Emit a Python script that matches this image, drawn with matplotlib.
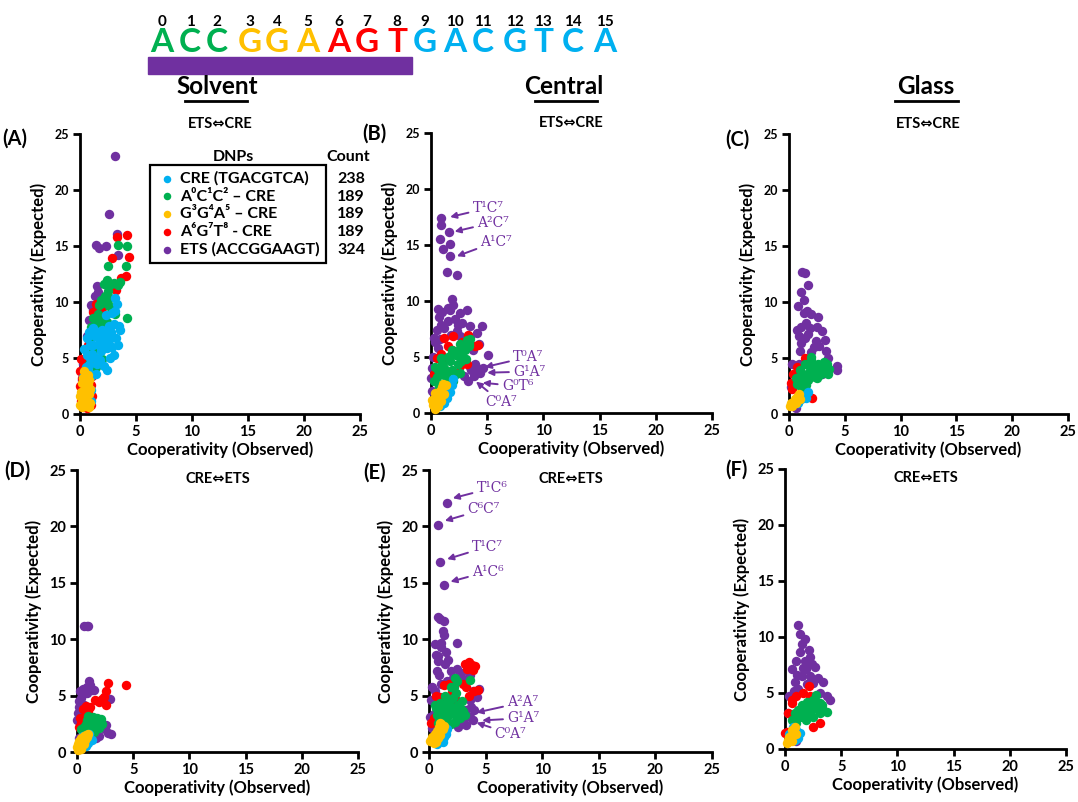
import matplotlib
matplotlib.use('Agg')
import matplotlib.pyplot as plt

plt.rcParams['font.family'] = ['Lato', 'DejaVu Sans']
plt.rcParams['font.weight'] = 'bold'

# ---- data: (observed, expected) pairs per panel/series ----
series_labels = ['CRE (TGACGTCA)', 'A⁰C¹C² – CRE', 'G³G⁴A⁵ – CRE', 'A⁶G⁷T⁸ - CRE', 'ETS (ACCGGAAGT)']
series_counts = [238, 189, 189, 189, 324]
series_colors = ['#00B0F0', '#00B050', '#FFC000', '#FF0000', '#7030A0']

# panel A  (solvent, ETS<=>CRE)
a_cre = [(3.1, 10.4), (3.1, 9.2), (2.9, 9.0), (3.0, 8.0), (3.4, 6.2), (3.0, 5.3), (2.7, 5.0), (2.4, 3.9),
         (1.5, 6.9), (0.9, 6.2), (0.6, 5.3), (0.8, 4.4), (1.9, 5.6), (2.2, 6.5), (1.2, 7.7), (0.3, 3.3),
         (1.0, 2.1), (2.4, 5.9), (3.5, 7.9), (2.8, 7.3), (2.6, 7.9), (2.0, 7.5), (1.7, 6.2), (1.3, 7.0),
         (1.1, 5.4), (1.4, 5.0), (0.7, 3.8), (1.0, 3.4), (0.5, 4.2), (1.5, 4.5), (2.2, 7.1), (3.6, 7.5),
         (2.6, 6.6), (1.9, 6.8), (0.8, 7.3), (1.2, 6.2), (0.5, 2.6), (1.0, 1.2), (1.6, 7.3), (2.5, 7.6),
         (3.2, 6.8), (2.9, 6.0), (1.8, 4.8), (2.1, 4.3), (0.4, 5.8), (0.6, 6.8), (1.4, 3.6), (2.3, 8.8),
         (3.3, 9.8), (0.9, 5.0)]
a_acc = [(3.4, 15.1), (4.2, 15.0), (4.1, 13.2), (2.5, 13.2), (2.8, 11.6), (3.4, 11.5), (3.0, 11.7),
         (2.2, 10.5), (2.5, 11.0), (1.9, 10.2), (2.3, 10.0), (2.7, 10.4), (2.0, 9.9), (1.7, 9.7),
         (4.2, 8.6), (3.1, 8.9), (1.2, 8.6), (1.4, 8.2), (0.9, 6.8), (1.9, 7.7), (2.0, 4.9), (1.4, 4.2),
         (1.6, 7.2), (1.0, 7.8), (2.4, 8.2), (1.2, 5.6), (0.8, 4.5), (0.6, 3.8), (2.9, 9.2), (2.1, 11.6),
         (3.6, 11.8), (2.4, 12.0), (1.6, 8.9), (1.9, 8.3), (2.6, 9.6)]
a_gga = [(0.2, 0.6), (0.4, 1.0), (0.3, 1.5), (0.6, 2.0), (0.5, 2.5), (0.8, 3.0), (0.7, 3.5), (0.4, 3.8),
         (0.9, 2.2), (0.2, 2.8), (0.6, 1.2), (0.8, 1.8), (0.1, 2.0), (0.3, 3.2), (0.5, 0.7), (0.9, 1.0),
         (0.7, 2.7), (0.2, 1.2), (0.0, 1.6), (0.0, 0.8), (0.5, 3.3), (0.8, 0.6)]
a_agt = [(4.2, 16.0), (3.3, 15.8), (4.4, 14.0), (2.9, 13.9), (4.1, 12.3), (3.7, 12.1), (3.2, 11.1),
         (2.6, 11.6), (1.4, 9.8), (1.2, 9.1), (1.8, 8.6), (0.5, 5.0), (0.1, 4.9), (0.0, 3.8), (0.2, 3.2),
         (0.0, 2.5), (0.3, 2.0), (0.1, 1.2), (0.3, 0.6), (0.6, 0.5), (1.0, 0.8), (1.1, 1.6), (1.0, 2.6),
         (1.1, 3.4), (0.9, 7.1), (0.7, 6.2), (2.0, 9.5), (0.4, 4.3), (0.8, 1.9), (0.5, 1.4)]
a_ets = [(3.1, 23.0), (2.6, 17.9), (1.4, 15.1), (1.7, 14.8), (2.3, 15.0), (3.3, 16.1), (3.4, 14.2),
         (1.5, 11.4), (1.6, 10.9), (1.3, 10.5), (1.0, 9.7), (1.2, 9.3), (0.8, 8.4), (0.6, 7.0), (0.3, 4.5),
         (0.4, 1.0), (0.7, 0.8), (0.9, 1.3), (0.2, 3.0), (1.9, 10.2)]

# panel B  (central, ETS<=>CRE)
b_cre = [(1.0, 1.4), (1.5, 2.3), (1.2, 0.9), (1.7, 1.9), (1.9, 2.5), (0.8, 0.6), (1.4, 1.3), (2.0, 3.0), (0.6, 1.1)]
b_acc = [(3.2, 6.5), (3.4, 6.2), (2.6, 6.2), (1.9, 5.6), (1.5, 5.0), (1.0, 4.4), (0.6, 3.8), (0.5, 3.2),
         (0.7, 2.4), (1.3, 3.2), (1.9, 3.8), (2.4, 4.4), (2.8, 5.0), (3.4, 6.0), (3.0, 5.6), (2.0, 2.9),
         (1.6, 2.4), (0.3, 2.9), (2.2, 5.2), (1.7, 4.6), (1.2, 4.0), (0.8, 3.5), (2.5, 5.6), (2.9, 6.0),
         (1.4, 2.8), (2.2, 3.5), (2.7, 4.6), (1.1, 2.6), (0.4, 4.1), (3.5, 6.6), (1.8, 5.2), (0.9, 4.9),
         (0.6, 2.0), (2.6, 3.6), (3.1, 4.8), (1.4, 3.6)]
b_gga = [(0.3, 0.9), (0.5, 1.4), (0.8, 2.0), (1.0, 2.3), (1.2, 1.7), (0.2, 0.7), (0.4, 1.8), (0.6, 0.6),
         (0.9, 1.1), (1.3, 2.5), (0.1, 1.2), (0.7, 1.6), (1.1, 2.6), (0.4, 0.4)]
b_agt = [(1.2, 6.7), (2.0, 6.9), (3.3, 7.0), (4.2, 6.1), (3.9, 6.0), (1.9, 5.6), (0.5, 4.9), (0.9, 5.3),
         (2.6, 4.2), (3.2, 4.4), (1.5, 6.0), (0.3, 3.5), (2.8, 6.3), (1.0, 4.6)]
b_ets = [(0.9, 17.4), (0.9, 16.8), (1.6, 16.2), (0.8, 15.5), (1.1, 14.6), (1.7, 15.1), (1.7, 14.0),
         (1.4, 12.6), (2.3, 12.3), (1.9, 10.2), (0.6, 9.3), (1.5, 9.4), (1.7, 9.2), (0.7, 8.6), (2.6, 8.9),
         (3.2, 9.2), (2.1, 8.4), (2.8, 8.0), (1.2, 7.6), (0.5, 7.4), (3.5, 7.8), (4.5, 7.8), (4.1, 7.1),
         (3.5, 6.8), (2.3, 7.3), (0.8, 6.6), (5.1, 5.2), (3.9, 4.4), (4.1, 3.6), (4.4, 3.6), (3.5, 4.1),
         (3.7, 5.6), (3.3, 2.9), (4.3, 6.2), (0.2, 5.0), (0.1, 4.0), (0.0, 3.1), (0.1, 2.0), (0.6, 5.8),
         (1.0, 4.8), (1.5, 8.2), (2.9, 3.3), (3.8, 3.3), (0.4, 6.3), (3.0, 6.1), (1.0, 9.0), (2.4, 7.9),
         (1.8, 7.0), (0.3, 6.7), (2.6, 6.9), (0.9, 7.9), (2.0, 9.6), (3.6, 3.8), (4.6, 4.0), (4.0, 4.1)]

# panel C  (glass, ETS<=>CRE)
c_cre = [(1.4, 1.7), (1.7, 2.0), (1.1, 1.3), (0.8, 1.0), (1.5, 1.4)]
c_acc = [(1.0, 3.9), (1.4, 4.5), (2.0, 4.8), (2.6, 4.5), (3.2, 4.2), (2.9, 3.6), (2.3, 3.3), (1.7, 3.0),
         (1.1, 2.4), (0.7, 2.7), (0.9, 3.3), (1.6, 3.6), (2.2, 3.9), (2.8, 4.0), (3.4, 4.5), (3.5, 3.6),
         (1.8, 4.3), (1.3, 3.0), (2.0, 5.1), (2.5, 3.2), (3.0, 3.9), (1.2, 3.6), (2.4, 4.2), (3.1, 4.6),
         (1.9, 3.4), (0.6, 3.2), (1.5, 2.6), (2.7, 3.5), (3.6, 4.0)]
c_gga = [(0.2, 1.0), (0.5, 1.3), (0.7, 1.5), (1.0, 1.3), (0.3, 0.7), (0.9, 1.8), (0.6, 1.0), (0.1, 0.7)]
c_agt = [(0.4, 3.6), (0.3, 2.2), (1.7, 1.6), (2.1, 1.4), (0.7, 4.2), (1.4, 5.0), (0.2, 2.8), (1.2, 1.9)]
c_ets = [(1.2, 12.7), (1.4, 12.6), (1.7, 11.5), (1.1, 10.9), (1.3, 10.2), (0.8, 9.6), (1.6, 9.2),
         (2.0, 8.9), (2.6, 8.7), (1.1, 7.8), (0.7, 7.5), (1.7, 7.1), (3.0, 7.4), (3.2, 6.6), (2.4, 6.5),
         (2.2, 6.0), (3.3, 5.6), (1.0, 5.6), (4.3, 4.3), (4.3, 3.9), (0.9, 4.5), (0.3, 4.5), (3.0, 3.6),
         (0.2, 2.4), (1.1, 6.3), (1.5, 8.1), (1.3, 9.0), (0.6, 0.5), (1.9, 7.7), (2.5, 7.8), (1.4, 6.8),
         (2.7, 6.1), (0.9, 7.0), (2.0, 5.5), (3.5, 5.0)]

# panel D  (solvent, CRE<=>ETS)
d_cre = [(0.3, 0.5), (0.6, 0.9), (0.9, 1.2), (1.1, 1.6), (0.5, 1.4), (0.8, 0.5), (1.3, 1.1), (0.2, 0.3), (1.0, 0.8)]
d_acc = [(1.0, 3.2), (1.4, 3.1), (1.8, 3.0), (2.1, 2.9), (1.6, 2.6), (1.2, 2.7), (0.8, 2.5), (0.6, 2.2),
         (0.4, 2.0), (0.9, 1.9), (1.3, 2.2), (1.9, 2.5), (1.5, 1.8), (0.7, 1.6), (1.1, 1.4), (2.0, 2.1),
         (1.3, 2.9), (1.7, 2.4), (0.9, 2.8), (2.2, 2.5)]
d_gga = [(0.0, 0.4), (0.1, 0.7), (0.2, 1.0), (0.4, 1.2), (0.6, 1.4), (0.3, 0.6), (0.5, 0.9), (0.7, 1.1),
         (0.8, 1.5), (0.1, 0.2), (0.4, 0.3), (0.2, 0.5), (0.9, 1.3), (1.0, 1.6), (0.6, 0.7)]
d_agt = [(4.4, 5.9), (2.8, 6.1), (2.6, 5.4), (2.4, 4.9), (2.6, 4.2), (2.2, 4.7), (1.6, 4.6), (1.2, 4.0),
         (0.8, 4.1), (0.5, 3.8), (0.3, 3.0), (0.7, 3.2), (1.0, 3.6), (0.4, 2.6), (2.0, 4.4), (0.2, 2.2)]
d_ets = [(1.1, 6.3), (0.9, 5.8), (0.5, 5.6), (0.3, 5.4), (0.7, 5.2), (1.3, 5.5), (1.5, 5.5), (0.4, 4.8),
         (0.2, 4.5), (0.6, 4.2), (0.1, 3.5), (0.3, 2.9), (0.0, 2.8), (0.5, 2.0), (0.8, 1.5), (2.2, 2.5),
         (2.5, 2.0), (2.8, 1.7), (3.0, 1.6), (2.0, 1.4), (1.7, 1.2), (2.9, 4.7), (1.2, 2.3), (0.6, 11.2),
         (0.9, 11.2), (1.0, 11.2), (0.2, 1.2), (1.5, 1.3), (0.5, 3.3), (0.9, 5.2), (1.2, 5.9), (0.2, 4.0),
         (2.6, 2.4)]

# panel E  (central, CRE<=>ETS)
e_cre = [(0.7, 0.7), (1.0, 1.0), (1.3, 1.3), (1.5, 1.6), (1.2, 0.9), (0.9, 1.5), (1.6, 2.0), (0.6, 1.2)]
e_acc = [(2.3, 6.6), (2.5, 6.3), (2.2, 5.8), (2.4, 5.2), (2.1, 4.8), (1.8, 4.5), (1.5, 4.3), (1.2, 4.0),
         (0.9, 3.7), (0.7, 3.3), (0.6, 3.9), (1.0, 4.3), (1.4, 5.0), (2.0, 4.0), (2.6, 4.2), (2.8, 3.8),
         (3.0, 3.6), (3.2, 3.3), (2.7, 3.0), (2.3, 2.7), (1.9, 2.5), (1.6, 2.2), (1.3, 2.0), (1.0, 2.3),
         (0.8, 2.6), (3.6, 6.4), (1.7, 3.2), (2.2, 3.4), (0.5, 4.2), (1.9, 5.8), (1.2, 3.2), (2.5, 3.6),
         (1.4, 2.6), (0.9, 3.0), (2.9, 4.5), (1.6, 3.8)]
e_gga = [(0.1, 1.0), (0.3, 1.3), (0.5, 1.6), (0.7, 1.9), (0.9, 2.2), (1.1, 2.5), (1.2, 2.0), (1.0, 1.5),
         (0.8, 1.2), (0.6, 0.9), (0.4, 0.8), (0.2, 1.1), (1.3, 2.3), (0.5, 1.1), (0.8, 1.7), (1.0, 2.6)]
e_agt = [(3.2, 7.8), (3.5, 8.0), (3.8, 7.7), (4.1, 7.6), (3.4, 7.4), (3.9, 7.3), (3.0, 6.0), (3.3, 5.8),
         (4.0, 5.4), (4.3, 5.5), (3.5, 5.0), (0.6, 5.0), (0.9, 4.9), (1.3, 5.9), (2.0, 5.3), (1.5, 4.5),
         (0.4, 3.0), (0.2, 2.6), (2.4, 4.6), (1.8, 6.0)]
e_ets = [(1.6, 22.1), (0.8, 20.1), (1.0, 16.8), (1.3, 14.8), (0.8, 12.0), (1.0, 11.8), (1.3, 11.6),
         (1.2, 10.7), (1.3, 10.4), (1.1, 9.7), (0.5, 9.6), (2.5, 9.7), (1.1, 9.3), (0.8, 8.1), (1.4, 7.8),
         (1.9, 7.2), (2.1, 6.6), (0.7, 7.2), (1.1, 6.0), (0.5, 5.4), (1.0, 4.9), (0.2, 4.6), (0.1, 3.1),
         (3.6, 6.8), (3.9, 5.4), (4.4, 5.6), (4.2, 4.9), (3.6, 4.6), (3.3, 3.7), (3.6, 3.1), (3.9, 2.8),
         (3.3, 2.4), (3.0, 2.8), (2.6, 2.2), (0.4, 3.4), (1.7, 8.2), (0.8, 8.5), (2.9, 3.3), (0.3, 2.1),
         (1.5, 8.9), (0.6, 8.6), (2.5, 7.4), (1.6, 6.3), (2.8, 7.0), (3.0, 6.5), (3.7, 4.0), (4.0, 3.7),
         (0.3, 5.8), (0.9, 6.8)]

# panel F  (glass, CRE<=>ETS)
f_cre = [(0.7, 2.0), (1.0, 1.7), (1.3, 1.4), (1.2, 1.0), (0.4, 1.3), (0.9, 0.8)]
f_acc = [(2.8, 4.8), (2.5, 4.4), (3.1, 4.1), (3.4, 3.5), (3.7, 3.3), (2.2, 3.8), (1.6, 3.5), (1.3, 2.9),
         (1.0, 2.3), (1.9, 2.6), (2.5, 2.9), (3.1, 3.2), (0.9, 3.2), (1.5, 3.9), (2.0, 4.2), (0.6, 2.6),
         (2.7, 4.2), (3.3, 3.9), (1.8, 3.1), (2.3, 3.4), (1.2, 3.5), (2.9, 3.6)]
f_gga = [(0.3, 0.8), (0.4, 1.1), (0.7, 1.5), (0.9, 2.0), (0.6, 1.7), (0.15, 0.5), (0.6, 0.7), (1.0, 1.3)]
f_agt = [(2.1, 5.6), (1.6, 5.0), (1.0, 4.7), (0.6, 4.1), (0.3, 3.2), (0.15, 1.5), (0.0, 1.4), (1.3, 3.5),
         (0.9, 2.6), (2.2, 4.7), (0.6, 4.4), (3.1, 2.3), (2.5, 2.0)]
f_ets = [(1.2, 11.1), (1.3, 10.3), (1.5, 9.4), (2.1, 8.8), (1.3, 8.7), (1.0, 7.9), (1.8, 7.9), (2.2, 8.2),
         (0.6, 7.1), (2.7, 7.3), (1.6, 7.2), (2.2, 6.5), (0.9, 6.0), (1.2, 5.4), (3.4, 6.0), (3.1, 5.0),
         (4.0, 4.4), (3.7, 4.7), (0.4, 4.7), (0.3, 3.2), (1.0, 0.7), (0.7, 2.6), (2.5, 5.9), (1.9, 7.1),
         (1.5, 6.5), (1.8, 9.8), (2.4, 7.6), (1.1, 6.6), (2.9, 6.3), (0.8, 5.2), (2.0, 5.8)]

# arrow labels: (text, point, text position)
b_notes = [('T¹C⁷', (1.7, 17.5), (3.7, 18.3)), ('A²C⁷', (2.1, 16.2), (4.1, 17.0)),
           ('A¹C⁷', (2.3, 14.0), (4.4, 15.3)), ('T⁰A⁷', (4.8, 4.1), (7.3, 5.0)),
           ('G¹A⁷', (5.0, 3.6), (7.3, 3.7)), ('G⁰T⁶', (4.6, 2.7), (6.3, 2.4)),
           ('C⁰A⁷', (4.0, 2.8), (4.8, 1.0))]
e_notes = [('T¹C⁶', (2.1, 22.5), (4.2, 23.4)), ('C⁶C⁷', (1.4, 20.5), (3.4, 21.5)),
           ('T¹C⁷', (1.6, 17.1), (3.8, 18.2)), ('A¹C⁶', (1.9, 15.1), (3.8, 16.0)),
           ('A²A⁷', (4.2, 3.5), (6.9, 4.4)), ('G¹A⁷', (4.7, 2.8), (6.9, 3.0)),
           ('C⁰A⁷', (4.2, 2.6), (5.8, 1.6))]

sequence = 'ACCGGAAGTGACGTCA'
seq_colors = ['#00B050'] * 3 + ['#FFC000'] * 3 + ['#FF0000'] * 3 + ['#00B0F0'] * 7
ticks = [0, 5, 10, 15, 20, 25]

W, H = 1078, 802
fig = plt.figure(figsize=(W / 100, H / 100), dpi=100)


def box(l, t, r, b):
    return [l / W, 1 - b / H, (r - l) / W, (b - t) / H]


# tag, axes box, tag position (px), series, title, arrow labels
panels = [
    ('(A)', box(80, 134, 360, 414), (2, 139), [a_cre, a_acc, a_gga, a_agt, a_ets], 'ETS⇔CRE', None),
    ('(B)', box(431, 133, 712, 413), (362, 134), [b_cre, b_acc, b_gga, b_agt, b_ets], 'ETS⇔CRE', b_notes),
    ('(C)', box(789, 134, 1068, 414), (725, 140), [c_cre, c_acc, c_gga, c_agt, c_ets], 'ETS⇔CRE', None),
    ('(D)', box(77, 470, 358, 752), (4, 471), [d_cre, d_acc, d_gga, d_agt, d_ets], 'CRE⇔ETS', None),
    ('(E)', box(429, 470, 712, 752), (363, 473), [e_cre, e_acc, e_gga, e_agt, e_ets], 'CRE⇔ETS', e_notes),
    ('(F)', box(785, 469, 1066, 749), (725, 470), [f_cre, f_acc, f_gga, f_agt, f_ets], 'CRE⇔ETS', None),
]
draw_order = [4, 3, 1, 0, 2]  # ETS under, yellow on top

for i, (tag, rect, tag_xy, data, title, notes) in enumerate(panels):
    ax = fig.add_axes(rect)
    handles = {}
    for k in draw_order:
        xs, ys = zip(*data[k])
        handles[k] = ax.scatter(xs, ys, s=46, color=series_colors[k], linewidths=0,
                                clip_on=False, zorder=3, label=series_labels[k])
    ax.set_xlim(0, 25)
    ax.set_ylim(0, 25)
    ax.set_xticks(ticks)
    ax.set_yticks(ticks)
    for side in ('top', 'right'):
        ax.spines[side].set_visible(False)
    for side in ('left', 'bottom'):
        ax.spines[side].set_linewidth(2)
    ax.tick_params(direction='out', length=5, width=2, labelsize=10.5, pad=3)
    if i < 3:
        ax.tick_params(axis='y', labelsize=9)
    ax.set_xlabel('Cooperativity (Observed)', fontsize=12, fontweight='bold', labelpad=2)
    ax.set_ylabel('Cooperativity (Expected)', fontsize=12, fontweight='bold', labelpad=5)
    ax.set_title(title, fontsize=10.5, fontweight='bold',
                 y=1.02 if i < 3 else 0.955, pad=0)
    fig.text(tag_xy[0] / W, 1 - tag_xy[1] / H, tag, fontsize=14.5, fontweight='bold', va='center')
    if notes:
        for txt, pt, tp in notes:
            ax.annotate(txt, xy=pt, xytext=tp, ha='left', va='center', color='#7030A0',
                        fontsize=10, family='DejaVu Serif', fontweight='normal',
                        arrowprops=dict(arrowstyle='-|>', color='#7030A0', lw=1.4,
                                        shrinkA=1, shrinkB=0, mutation_scale=9))
    if i == 0:
        leg_h = [handles[k] for k in range(5)]
        leg = ax.legend(leg_h, series_labels, loc='upper left',
                        bbox_to_anchor=((150 - 80) / 280, (414 - 165) / 280),
                        frameon=True, fancybox=False, edgecolor='black', framealpha=1,
                        fontsize=11.5, handletextpad=0.2, handlelength=1.3, labelspacing=0.22,
                        borderpad=0.4, borderaxespad=0, markerscale=0.8)
        leg.get_frame().set_linewidth(1.6)
        for t_ in leg.get_texts():
            t_.set_fontweight('bold')

# header: sequence, indices, purple bar, region names
seq_x = [162, 190, 217, 250, 277, 308, 339, 367, 397, 425, 455, 483, 515, 543, 573, 605]
for i, (ch, col) in enumerate(zip(sequence, seq_colors)):
    fig.text(seq_x[i] / W, 1 - 43 / H, ch, color=col, fontsize=24, fontweight='bold',
             ha='center', va='center')
    fig.text(seq_x[i] / W, 1 - 22 / H, str(i), color='black', fontsize=11, fontweight='bold',
             ha='center', va='center')
fig.patches.append(plt.Rectangle((148 / W, 1 - 74 / H), (412 - 148) / W, 17 / H,
                                 transform=fig.transFigure, color='#7030A0', zorder=1))
for name, cx, u0, u1 in [('Solvent', 217, 185, 247), ('Central', 564, 535, 597), ('Glass', 926, 895, 958)]:
    fig.text(cx / W, 1 - 86 / H, name, fontsize=17.5, fontweight='bold', ha='center', va='center')
    fig.add_artist(plt.Line2D([u0 / W, u1 / W], [1 - 101 / H, 1 - 101 / H], color='black', lw=2))

# legend header and counts aligned to the legend rows
fig.canvas.draw()
fig.text(233 / W, 1 - 157 / H, 'DNPs', fontsize=11.5, fontweight='bold', ha='center', va='center')
fig.text(348 / W, 1 - 157 / H, 'Count', fontsize=11.5, fontweight='bold', ha='center', va='center')
for t_, n in zip(leg.get_texts(), series_counts):
    bb = t_.get_window_extent()
    fig.text(337 / W, (bb.y0 + bb.y1) / 2 / H, str(n), fontsize=11.5, fontweight='bold',
             ha='left', va='center')

fig.savefig('out.png', dpi=100)
